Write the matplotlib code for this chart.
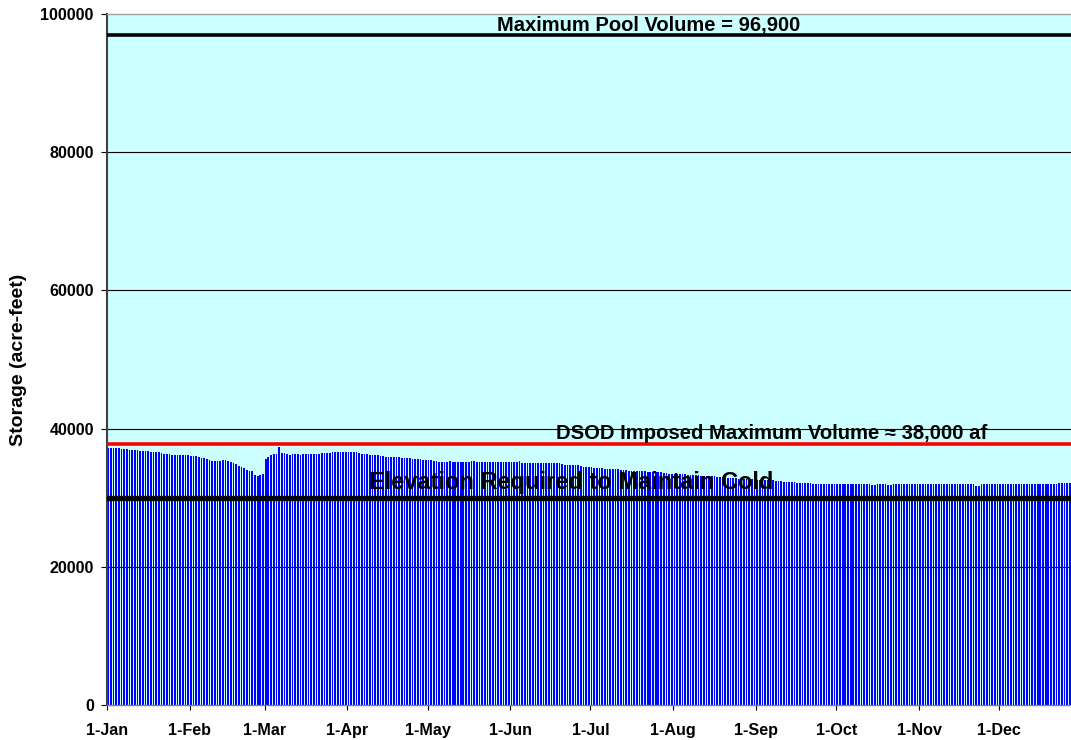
import matplotlib
matplotlib.use("Agg")
import matplotlib.pyplot as plt
import numpy as np

plt.rcParams['font.family'] = ['Liberation Sans', 'DejaVu Sans']
plt.rcParams['font.weight'] = 'bold'

# Daily storage (acre-feet), by month
jan = [37200, 37250, 37200, 37200, 37150, 37100, 37100, 37000, 36950, 36950,
       36950, 36900, 36750, 36700, 36700, 36700, 36600, 36600, 36550, 36550,
       36400, 36350, 36350, 36350, 36250, 36200, 36200, 36200, 36200, 36200, 36150]
feb = [36100, 36100, 36050, 35900, 35800, 35750, 35650, 35400, 35350, 35300,
       35250, 35300, 35400, 35400, 35350, 35200, 35050, 34850, 34600, 34400,
       34300, 34050, 33900, 33800, 33250, 33150, 33250, 33400]
mar = [35600, 35950, 36150, 36300, 36350, 37350, 36450, 36450, 36350, 36250,
       36350, 36350, 36300, 36250, 36300, 36350, 36350, 36300, 36350, 36350,
       36350, 36400, 36450, 36450, 36450, 36550, 36600, 36600, 36600, 36600, 36600]
apr = [36650, 36650, 36600, 36600, 36450, 36350, 36300, 36300, 36200, 36200,
       36150, 36150, 36100, 36050, 35950, 35950, 35900, 35900, 35850, 35850,
       35800, 35750, 35750, 35700, 35650, 35600, 35600, 35550, 35500, 35500]
may = [35450, 35400, 35350, 35250, 35200, 35200, 35200, 35200, 35250, 35200,
       35200, 35200, 35200, 35200, 35200, 35200, 35250, 35300, 35200, 35200,
       35200, 35200, 35200, 35200, 35200, 35200, 35200, 35200, 35200, 35200, 35200]
jun = [35200, 35200, 35200, 35300, 35050, 35050, 35000, 35000, 35000, 35000,
       35000, 35000, 35000, 35000, 35000, 34950, 34950, 34950, 34950, 34900,
       34800, 34800, 34750, 34750, 34700, 34700, 34650, 34500, 34500, 34450]
jul = [34400, 34350, 34350, 34350, 34300, 34200, 34200, 34150, 34150, 34100,
       34100, 34050, 34050, 34000, 33900, 33900, 33850, 33850, 33800, 33800,
       33800, 33750, 33750, 33700, 33700, 33650, 33650, 33550, 33550, 33500, 33500]
aug = [33450, 33450, 33400, 33400, 33400, 33350, 33350, 33300, 33250, 33250,
       33200, 33200, 33150, 33150, 33100, 33100, 33050, 33050, 33000, 32950,
       32900, 32850, 32800, 32800, 32750, 32750, 32700, 32700, 32700, 32650, 32650]
sep = [32600, 32600, 32600, 32550, 32550, 32500, 32500, 32450, 32400, 32400,
       32300, 32300, 32250, 32250, 32200, 32150, 32150, 32100, 32100, 32100,
       32100, 32050, 32050, 32050, 32050, 32000, 32000, 32000, 32000, 32000]
oct_ = [31980, 31980, 31980, 31980, 31950, 31980, 31980, 31980, 31980, 31980,
        31980, 31980, 31950, 31900, 31900, 31980, 31980, 31950, 31990, 31900,
        31900, 31950, 31980, 31950, 31950, 31950, 31980, 31980, 31950, 31950, 31950]
nov = [31950, 31950, 31950, 31950, 31950, 31950, 31950, 31950, 31950, 31950,
       31950, 31950, 31950, 31950, 31950, 31950, 31950, 31950, 31950, 31950,
       31950, 31700, 31700, 31950, 31950, 31950, 31980, 31980, 31980, 31980]
dec = [31980, 31980, 31980, 31980, 31980, 31980, 31980, 31980, 31980, 31980,
       31980, 31980, 31980, 31980, 31980, 31980, 31980, 31980, 31980, 31980,
       31980, 31980, 32100, 32100, 32100, 32100, 32100, 32100, 32050, 32000, 32000]

storage = jan + feb + mar + apr + may + jun + jul + aug + sep + oct_ + nov + dec

month_starts = [0, 31, 59, 90, 120, 151, 181, 212, 243, 273, 304, 334]
month_labels = ['1-Jan', '1-Feb', '1-Mar', '1-Apr', '1-May', '1-Jun',
                '1-Jul', '1-Aug', '1-Sep', '1-Oct', '1-Nov', '1-Dec']
yticks = [0, 20000, 40000, 60000, 80000, 100000]

max_pool = 96900
dsod_max = 37800
cold_elev = 30000

fig = plt.figure(figsize=(10.71, 7.40), dpi=100)
ax = fig.add_axes([107/1071, 35/740, 975/1071, 691/740])
ax.set_facecolor('#CCFFFF')

days = np.arange(len(storage))
ax.bar(days + 0.08, storage, width=0.64, align='edge', color='#0000FF',
       linewidth=0, zorder=2)

for g in [20000, 40000, 60000, 80000]:
    ax.axhline(g, color='black', lw=0.8, zorder=1)

ax.axhline(max_pool, color='black', lw=2.6, zorder=3)
ax.axhline(dsod_max, color='#FF0000', lw=2.6, zorder=3)
ax.axhline(cold_elev, color='black', lw=3.8, zorder=3)

ax.text(202.8, 97600, 'Maximum Pool Volume = 96,900', ha='center', va='baseline',
        fontsize=14.5, fontweight='bold', zorder=4)
ax.text(248.9, 38450, 'DSOD Imposed Maximum Volume \u2248 38,000 af', ha='center',
        va='baseline', fontsize=14.6, fontweight='bold', zorder=4)
ax.text(173.7, 31220, 'Elevation Required to Maintain Cold', ha='center',
        va='baseline', fontsize=17, fontweight='bold', zorder=4)

ax.set_xlim(0, 365)
ax.set_ylim(0, 100000)
ax.set_xticks(month_starts)
ax.set_xticklabels(month_labels, fontsize=11.6, fontweight='bold')
ax.set_yticks(yticks)
ax.set_yticklabels([str(v) for v in yticks], fontsize=11.6, fontweight='bold')
ax.tick_params(axis='x', direction='out', length=3.5, width=0.8, pad=9.5)
ax.tick_params(axis='y', direction='out', length=4.5, width=0.8, pad=5)

ax.set_ylabel('Storage (acre-feet)', fontsize=14, fontweight='bold')
ax.yaxis.set_label_coords(-80/975, 0.5)

ax.spines['left'].set_color('#404040')
ax.spines['left'].set_linewidth(1.5)
ax.spines['bottom'].set_color('#808080')
ax.spines['bottom'].set_linewidth(1.0)
ax.spines['top'].set_color('#A0A0A0')
ax.spines['top'].set_linewidth(1.0)
ax.spines['right'].set_visible(False)

fig.savefig('out.png', dpi=100)
